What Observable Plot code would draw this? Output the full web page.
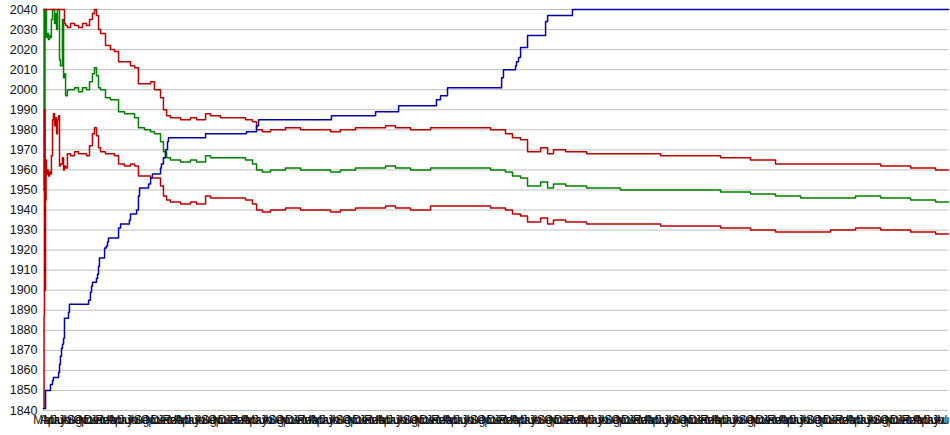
<!DOCTYPE html>
<html>
<head>
<meta charset="utf-8">
<script src="https://cdn.jsdelivr.net/npm/d3@7"></script>
<script src="https://cdn.jsdelivr.net/npm/@observablehq/plot@0.6"></script>
<style>
  html, body { margin: 0; padding: 0; background: #fff; }
  svg { display: block; }
</style>
</head>
<body>
<div id="chart"></div>
<script>
// ---- data ----
// day offsets (from first observation) shared by the estimate and its bounds
const tDays = [0,3,5,8,11,14,16,22,27,33,38,43,49,54,60,65,71,76,82,87,92,103,109,114,120,130,147,169,190,212,234,250,266,277,288,299,310,337,364,386,408,440,473,495,516,549,582,603,636,652,669,690,745,799,832,881,908,962,1044,1098,1136,1158,1190,1234,1315,1397,1451,1560,1614,1696,1777,1859,1913,1995,2104,2212,2321,2430,2511,2549,2593,2631,2702,2740,2772,2838,2952,3136,3354,3571,3680,3843,3979,4115,4278,4414,4550,4713,4849,4919];
const upper = [2040,2040,2040,2040,2040,2040,2040,2040,2040,2040,2040,2040,2040,2040,2040,2040,2040,2040,2040,2040,2040,2040,2040,2033,2032,2031,2033,2032,2031,2033,2032,2035,2038,2040,2037,2030,2028,2022,2020,2019,2014,2014,2012,2011,2003,2003,2004,2000,1996,1990,1987,1986,1985,1986,1985,1988,1987,1986,1986,1985,1984,1980,1979,1980,1981,1980,1980,1979,1980,1981,1981,1982,1981,1980,1981,1981,1981,1980,1978,1976,1975,1969,1971,1968,1970,1969,1968,1968,1967,1967,1966,1965,1963,1963,1963,1963,1962,1961,1960,1960];
const mid = [1950,2040,1960,2040,2030,2040,2026,2028,2025,2027,2026,2035,2040,2040,2033,2038,2030,2040,2040,2015,2012,2035,2006,2008,1997,2000,2000,2001,1999,2001,2000,2004,2008,2011,2007,2001,2000,1996,1995,1995,1989,1988,1988,1986,1981,1980,1979,1978,1974,1969,1966,1965,1964,1965,1964,1967,1966,1966,1966,1965,1963,1960,1959,1960,1961,1960,1960,1959,1960,1961,1961,1962,1961,1960,1961,1961,1961,1960,1959,1957,1956,1952,1954,1951,1953,1952,1951,1950,1950,1950,1949,1948,1947,1946,1946,1947,1946,1945,1944,1944];
const lower = [1841,1887,1990,1900,1945,1965,1958,1960,1957,1959,1958,1967,1985,1988,1982,1986,1978,1985,1987,1962,1963,1966,1960,1962,1961,1968,1967,1969,1968,1968,1967,1972,1978,1981,1977,1971,1969,1968,1968,1967,1963,1962,1963,1962,1957,1957,1956,1956,1952,1947,1945,1944,1943,1944,1943,1947,1946,1946,1946,1945,1943,1940,1939,1940,1941,1940,1940,1939,1940,1941,1941,1942,1941,1940,1942,1942,1942,1941,1940,1938,1937,1934,1936,1933,1935,1934,1933,1933,1932,1932,1931,1930,1929,1929,1930,1931,1930,1929,1928,1928];
// cumulative step series
const blueDays = [0,11,38,49,54,82,87,92,98,103,109,114,136,141,245,255,261,266,288,294,299,304,332,342,348,353,408,419,467,473,506,516,522,571,582,592,636,641,652,663,674,679,881,1103,1158,1169,1565,1805,1930,2136,2158,2196,2490,2500,2566,2571,2582,2593,2631,2729,2740,2875,4919];
const blue = [1841,1850,1853,1855,1856.5,1859,1863,1867,1871,1873,1876,1886,1889,1893,1895,1899,1902,1904,1906,1908,1912,1916,1921,1922,1924,1926,1931,1933,1935,1938,1940,1947,1951,1953,1956,1958,1961,1963,1966,1970,1974,1976,1978,1979,1982,1985,1987,1989,1992,1995,1997,2001,2006,2010,2012,2014,2016,2021,2027,2034,2037,2040,2040];
const yTicks = [1840,1850,1860,1870,1880,1890,1900,1910,1920,1930,1940,1950,1960,1970,1980,1990,2000,2010,2020,2030,2040];
const startDate = "2005-03-01";

// ---- build ----
const start = new Date(startDate + "T00:00:00Z");
const toDate = d => new Date(start.getTime() + d * 864e5);
const end = toDate(tDays[tDays.length - 1]);
const monthTicks = d3.utcMonth.range(start, end);

const series = (days, vals) => days.map((d, i) => ({date: toDate(d), v: vals[i]}));

const chart = Plot.plot({
  width: 950,
  height: 435,
  marginLeft: 43,
  marginRight: 2,
  marginTop: 9,
  marginBottom: 25,
  style: {fontFamily: "'Liberation Sans', Arial, sans-serif", fontSize: "12px", background: "#fff", color: "#111"},
  x: {type: "utc", domain: [start, end], axis: null},
  y: {domain: [1840, 2040], axis: null},
  marks: [
    Plot.gridY(yTicks, {stroke: "#c0c0c0", strokeOpacity: 1, strokeWidth: 1}),
    Plot.axisY(yTicks, {tickSize: 0, tickPadding: 6, fontSize: 12.5, label: null, tickFormat: d => String(d)}),
    Plot.axisX(monthTicks, {tickSize: 0, tickPadding: 5, fontSize: 12, label: null, tickFormat: d3.utcFormat("%b")}),
    Plot.line(series(tDays, mid), {x: "date", y: "v", curve: "step-after", stroke: "#008000", strokeWidth: 1.5}),
    Plot.line(series(tDays, upper), {x: "date", y: "v", curve: "step-after", stroke: "#c00000", strokeWidth: 1.5}),
    Plot.line(series(tDays, lower), {x: "date", y: "v", curve: "step-after", stroke: "#c00000", strokeWidth: 1.5}),
    Plot.line(series(blueDays, blue), {x: "date", y: "v", curve: "step-after", stroke: "#0000b0", strokeWidth: 1.5})
  ]
});
document.getElementById("chart").appendChild(chart);
</script>
</body>
</html>
